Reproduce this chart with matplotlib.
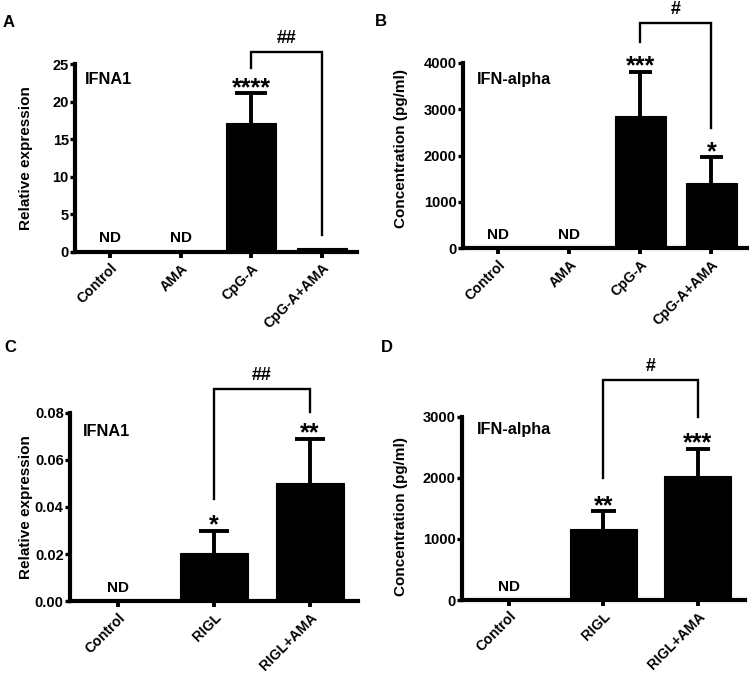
import matplotlib
matplotlib.use("Agg")
import matplotlib.pyplot as plt
import matplotlib.transforms as mtransforms

plt.rcParams['font.family'] = ['Liberation Sans', 'DejaVu Sans']
plt.rcParams['font.weight'] = 'bold'

# ---------------- data ----------------
a_cats = ['Control', 'AMA', 'CpG-A', 'CpG-A+AMA']
a_vals = [0, 0, 17.2, 0.5]
a_errs = [0, 0, 3.9, 0]
a_stars = ['', '', '****', '']
a_nd = [True, True, False, False]
a_yticks = [0, 5, 10, 15, 20, 25]
a_ticklabels = ['0', '5', '10', '15', '20', '25']

b_cats = ['Control', 'AMA', 'CpG-A', 'CpG-A+AMA']
b_vals = [0, 0, 2850, 1410]
b_errs = [0, 0, 950, 550]
b_stars = ['', '', '***', '*']
b_nd = [True, True, False, False]
b_yticks = [0, 1000, 2000, 3000, 4000]
b_ticklabels = ['0', '1000', '2000', '3000', '4000']

c_cats = ['Control', 'RIGL', 'RIGL+AMA']
c_vals = [0, 0.0206, 0.050]
c_errs = [0, 0.0094, 0.0188]
c_stars = ['', '*', '**']
c_nd = [True, False, False]
c_yticks = [0.00, 0.02, 0.04, 0.06, 0.08]
c_ticklabels = ['0.00', '0.02', '0.04', '0.06', '0.08']

d_cats = ['Control', 'RIGL', 'RIGL+AMA']
d_vals = [0, 1165, 2030]
d_errs = [0, 285, 440]
d_stars = ['', '**', '***']
d_nd = [True, False, False]
d_yticks = [0, 1000, 2000, 3000]
d_ticklabels = ['0', '1000', '2000', '3000']

fig = plt.figure(figsize=(7.5, 6.73), dpi=100)

def panel(rect, letter, letter_xy, cats, vals, errs, stars, nd, yticks, yticklabels,
          ylabel, ylabel_xy, title, title_xy, bracket, hash_text, cap_hw):
    ax = fig.add_axes(rect)
    x = list(range(len(cats)))
    ymax = yticks[-1]
    ax.bar(x, vals, width=0.71, color='black', edgecolor='black', linewidth=0.8, zorder=3)
    for xi, v, e in zip(x, vals, errs):
        if e > 0:
            ax.vlines(xi, v, v + e, color='black', lw=2.8, zorder=2)
            ax.hlines(v + e, xi - cap_hw, xi + cap_hw, color='black', lw=2.8, zorder=2)
    ax.set_xlim(-0.5, len(cats) - 0.5)
    ax.set_ylim(0, ymax)
    for s in ['top', 'right']:
        ax.spines[s].set_visible(False)
    for s in ['left', 'bottom']:
        ax.spines[s].set_linewidth(3.0)
    ax.set_yticks(yticks)
    ax.set_yticklabels(yticklabels, fontsize=10.5, fontweight='bold')
    ax.set_xticks(x)
    ax.set_xticklabels(cats, rotation=45, ha='right', va='top',
                       rotation_mode='anchor', fontsize=10.2, fontweight='bold')
    offset = mtransforms.ScaledTranslation(5 / 72, 0.5 / 72, fig.dpi_scale_trans)
    for lab in ax.get_xticklabels():
        lab.set_transform(lab.get_transform() + offset)
    ax.tick_params(axis='y', length=3.5, width=2.4, pad=1)
    ax.tick_params(axis='x', length=4.5, width=2.8, pad=2)
    ax.set_ylabel(ylabel, fontsize=11, fontweight='bold')
    ax.yaxis.set_label_coords(*ylabel_xy)
    ax.text(title_xy[0], title_xy[1], title, transform=ax.transAxes,
            fontsize=11.7, fontweight='bold', ha='left', va='center')
    # stars and ND
    for xi, v, e, st, n in zip(x, vals, errs, stars, nd):
        if st:
            ax.text(xi, v + e - ymax * 0.035, st, ha='center', va='bottom',
                    fontsize=18, fontweight='bold', clip_on=False)
        if n:
            ax.text(xi, ymax * 0.035, 'ND', ha='center', va='bottom',
                    fontsize=11, fontweight='bold')
    # bracket
    i0, i1, ytop, yl0, yl1 = bracket
    ax.plot([i0, i0, i1, i1], [yl0, ytop, ytop, yl1], color='black', lw=1.7,
            clip_on=False, solid_joinstyle='miter')
    ax.text((i0 + i1) / 2, ytop + ymax * 0.025, hash_text, ha='center', va='bottom',
            fontsize=13, fontweight='bold', clip_on=False)
    fig.text(letter_xy[0], letter_xy[1], letter, fontsize=12, fontweight='bold',
             ha='left', va='center')
    return ax

panel([0.100, 0.6256, 0.376, 0.2793], 'A', (0.004, 0.966),
      a_cats, a_vals, a_errs, a_stars, a_nd, a_yticks, a_ticklabels,
      'Relative expression', (-0.15, 0.5), 'IFNA1', (0.035, 0.915),
      (2, 3, 26.6, 24.5, 2.3), '##', 0.23)

panel([0.6173, 0.631, 0.3787, 0.2758], 'B', (0.500, 0.968),
      b_cats, b_vals, b_errs, b_stars, b_nd, b_yticks, b_ticklabels,
      'Concentration (pg/ml)', (-0.195, 0.54), 'IFN-alpha', (0.05, 0.907),
      (2, 3, 4860, 4440, 2590), '#', 0.16)

panel([0.0933, 0.1066, 0.384, 0.2802], 'C', (0.006, 0.483),
      c_cats, c_vals, c_errs, c_stars, c_nd, c_yticks, c_ticklabels,
      'Relative expression', (-0.13, 0.5), 'IFNA1', (0.045, 0.90),
      (1, 2, 0.0902, 0.0434, 0.0804), '##', 0.16)

panel([0.6156, 0.1084, 0.3778, 0.2724], 'D', (0.508, 0.483),
      d_cats, d_vals, d_errs, d_stars, d_nd, d_yticks, d_ticklabels,
      'Concentration (pg/ml)', (-0.19, 0.457), 'IFN-alpha', (0.053, 0.928),
      (1, 2, 3600, 1990, 3000), '#', 0.13)

fig.savefig('out.png', dpi=100)
